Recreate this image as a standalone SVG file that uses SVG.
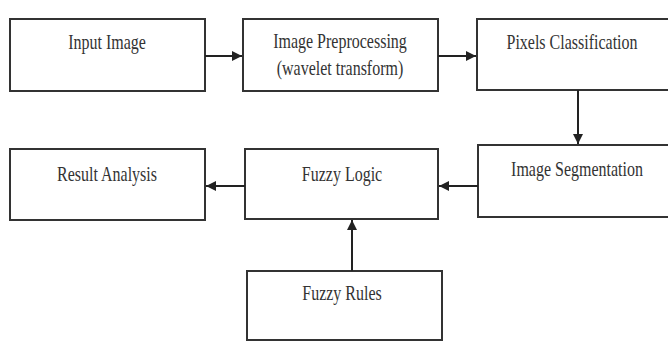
<svg xmlns="http://www.w3.org/2000/svg" width="668" height="342" viewBox="0 0 668 342">
<defs>
<marker id="ah" viewBox="0 0 10 10" refX="10" refY="5" markerWidth="5" markerHeight="5" orient="auto" markerUnits="strokeWidth">
<path d="M0,0 L10,5 L0,10 z" fill="#222"/>
</marker>
</defs>
<style>
.box{fill:#fff;stroke:#333;stroke-width:2}
.lbl{font-family:"Liberation Serif","Times New Roman",serif;font-size:16px;fill:#333;text-anchor:middle}
.con{stroke:#222;stroke-width:2;fill:none;marker-end:url(#ah)}
</style>
<rect width="668" height="342" fill="#fff"/>
<g id="input-image">
<rect class="box" x="10" y="19" width="195" height="72"/>
<text class="lbl" transform="translate(107,49) scale(1,1.3)">Input Image</text>
</g>
<g id="image-preprocessing">
<rect class="box" x="243" y="19" width="195" height="72"/>
<text class="lbl" transform="translate(340,48) scale(1,1.3)">Image Preprocessing</text>
<text class="lbl" transform="translate(340,75) scale(1,1.3)">(wavelet transform)</text>
</g>
<g id="pixels-classification">
<rect class="box" x="477" y="19" width="200" height="71"/>
<text class="lbl" transform="translate(572,49) scale(1,1.3)">Pixels Classification</text>
</g>
<g id="image-segmentation">
<rect class="box" x="478" y="145" width="200" height="72"/>
<text class="lbl" transform="translate(577,176) scale(1,1.3)">Image Segmentation</text>
</g>
<g id="fuzzy-logic">
<rect class="box" x="245" y="149" width="193" height="70"/>
<text class="lbl" transform="translate(342,181) scale(1,1.3)">Fuzzy Logic</text>
</g>
<g id="result-analysis">
<rect class="box" x="10" y="149" width="195" height="71"/>
<text class="lbl" transform="translate(107,181) scale(1,1.3)">Result Analysis</text>
</g>
<g id="fuzzy-rules">
<rect class="box" x="247" y="271" width="195" height="69"/>
<text class="lbl" transform="translate(342,300) scale(1,1.3)">Fuzzy Rules</text>
</g>
<g id="connectors">
<line class="con" x1="205" y1="56" x2="242" y2="56"/>
<line class="con" x1="438" y1="56" x2="476" y2="56"/>
<line class="con" x1="578" y1="90" x2="578" y2="144"/>
<line class="con" x1="478" y1="186" x2="439" y2="186"/>
<line class="con" x1="245" y1="186" x2="206" y2="186"/>
<line class="con" x1="352" y1="271" x2="352" y2="220"/>
</g>
</svg>
